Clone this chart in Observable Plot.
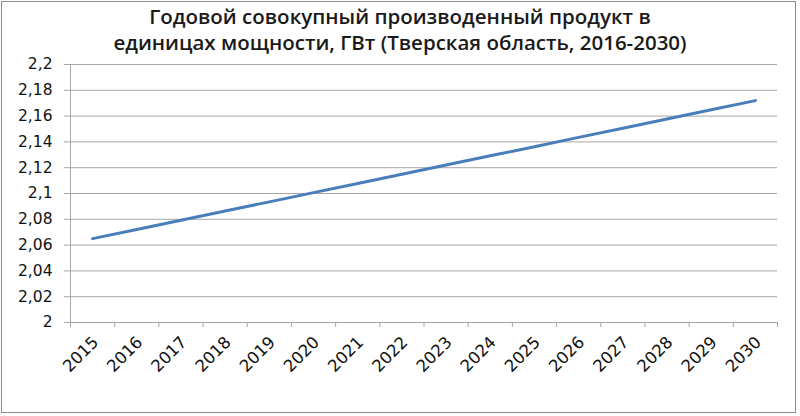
<!DOCTYPE html>
<html>
<head>
<meta charset="utf-8">
<script src="https://cdn.jsdelivr.net/npm/d3@7"></script>
<script src="https://cdn.jsdelivr.net/npm/@observablehq/plot@0.6"></script>
<style>
  html, body { margin: 0; padding: 0; background: #fff; }
  #wrap { position: relative; width: 800px; height: 416px; overflow: hidden; }
  #frame { position: absolute; left: 1px; top: 1px; width: 795px; height: 412px; border: 1px solid #8c8c8c; box-sizing: border-box; pointer-events: none; }
  #title { position: absolute; left: 0; top: 3px; width: 800px; text-align: center; font-family: "Open Sans", sans-serif; font-weight: 600; font-size: 20.5px; line-height: 26px; color: #1a1a1a; }
  #chart { position: absolute; left: 0; top: 0; }
</style>
</head>
<body>
<div id="wrap">
  <div id="chart"></div>
  <div id="title">Годовой совокупный производенный продукт в<br>единицах мощности, ГВт (Тверская область, 2016-2030)</div>
  <div id="frame"></div>
</div>
<script>
const years = [2015, 2016, 2017, 2018, 2019, 2020, 2021, 2022, 2023, 2024, 2025, 2026, 2027, 2028, 2029, 2030];
const values = [2.0650, 2.0721, 2.0793, 2.0864, 2.0935, 2.1007, 2.1078, 2.1149, 2.1221, 2.1292, 2.1363, 2.1435, 2.1506, 2.1577, 2.1649, 2.1720];
const yTicks = [2, 2.02, 2.04, 2.06, 2.08, 2.1, 2.12, 2.14, 2.16, 2.18, 2.2];

const data = years.map((y, i) => ({year: y, value: values[i]}));
const bounds = [years[0] - 0.5, ...years.map(y => y + 0.5)];
const fmt = d => String(+d.toFixed(2)).replace(".", ",");
const font = "DejaVu Sans, sans-serif";

const plot = Plot.plot({
  width: 800,
  height: 416,
  marginLeft: 70,
  marginRight: 23,
  marginTop: 64,
  marginBottom: 94,
  style: {fontFamily: font, fontSize: "15px", color: "#111", background: "transparent"},
  x: {type: "linear", domain: [bounds[0], bounds[bounds.length - 1]]},
  y: {domain: [2, 2.2]},
  marks: [
    Plot.ruleY(yTicks, {stroke: "#a6a6a6", strokeWidth: 1}),
    Plot.ruleX([bounds[0]], {stroke: "#a6a6a6", strokeWidth: 1}),
    Plot.axisY({ticks: yTicks, tickFormat: fmt, tickSize: 6, tickPadding: 12, stroke: "#a6a6a6", strokeOpacity: 1, label: null, fontSize: 15.5}),
    Plot.axisX({ticks: bounds, tickFormat: () => "", tickSize: 5, stroke: "#a6a6a6", strokeOpacity: 1, label: null}),
    Plot.axisX({ticks: years, tickFormat: d => String(d), tickSize: 0, tickPadding: 17, tickRotate: -45, label: null, fontSize: 16.5, dx: 3}),
    Plot.line(data, {x: "year", y: "value", stroke: "#4a7ebb", strokeWidth: 3, strokeLinecap: "round"})
  ]
});
document.getElementById("chart").appendChild(plot);
</script>
</body>
</html>
